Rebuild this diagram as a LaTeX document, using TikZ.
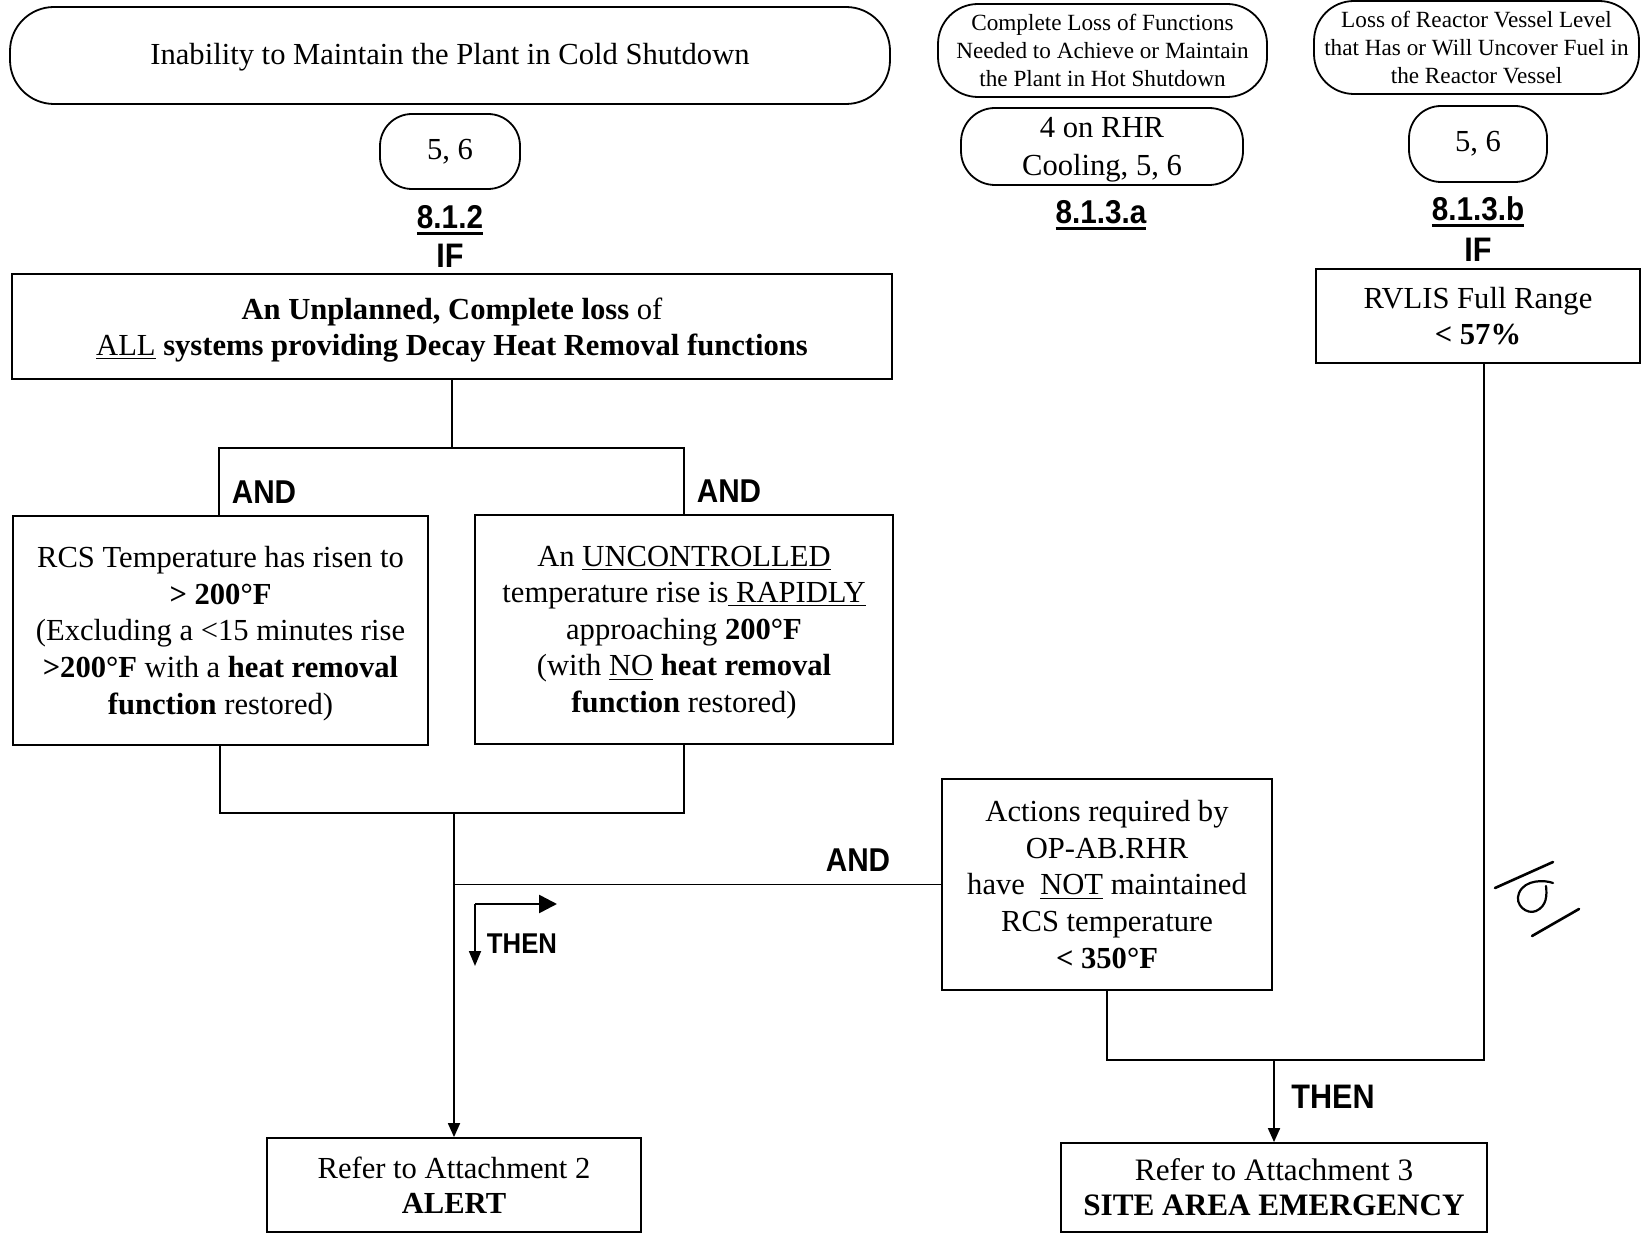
\documentclass[tikz,border=0pt]{standalone}
\usepackage{fontspec}
\setmainfont{Liberation Serif}
\setsansfont{Liberation Sans}
\newfontfamily\labelfont[FakeStretch=0.9]{Liberation Sans}
\usetikzlibrary{arrows.meta}

% text sizes
\newcommand{\bodysize}{\fontsize{15.3pt}{18.3pt}\selectfont}
\newcommand{\titlesize}{\fontsize{11.6pt}{14.2pt}\selectfont}
% heavy underline for the section numbers
\newcommand{\thickul}[1]{\setbox0\hbox{#1}\rlap{\rule[-2.8pt]{\wd0}{1.2pt}}\box0}

\tikzset{
  line/.style={line width=0.9pt},
  arrowline/.style={line width=0.9pt,-{Triangle[length=7pt,width=6pt]}},
  textbox/.style={draw,line width=0.9pt,inner sep=0pt,align=center,font=\bodysize},
  pill/.style={textbox,rounded corners=#1},
  keyword/.style={font=\labelfont\bfseries\fontsize{#1}{#1}\selectfont,inner sep=0pt,anchor=base},
  plaintext/.style={inner sep=0pt,align=center},
}

\begin{document}
\begin{tikzpicture}[x=0.5pt,y=-0.5pt]
\fill[white] (0,0) rectangle (1642,1234);
\useasboundingbox (0,0) rectangle (1642,1234);

% ---- 8.1.2 column ----
\node[pill=22pt,minimum width=440pt,minimum height=48.5pt] (cold) at (450,55.5) {};
\node[plaintext,font=\bodysize] (coldtext) at (450,57.5)
  {Inability to Maintain the Plant in Cold Shutdown};
\node[pill=16pt,minimum width=70pt,minimum height=37.5pt] (modeA) at (450,151.5) {5, 6};
\node[keyword=16.5pt] (secA) at (450,229) {\thickul{8.1.2}};
\node[keyword=17pt] (ifA) at (450,268) {IF};

\node[textbox,minimum width=440pt,minimum height=52.5pt] (loss) at (452,326.5) {};
\node[plaintext,font=\fontsize{15.3pt}{17.9pt}\selectfont] (losstext) at (452,330)
  {\textbf{An Unplanned, Complete loss} of\\\underline{ALL} \textbf{systems providing Decay Heat Removal functions}};

\node[textbox,minimum width=207.5pt,minimum height=114.5pt] (tempL) at (220.5,630.5) {};
\node[plaintext,font=\bodysize] (tempLtext) at (220.5,633.5)
  {RCS Temperature has risen to\\\textbf{> 200°F}\\(Excluding a <15 minutes rise\\\textbf{>200°F} with a \textbf{heat removal}\\\textbf{function} restored)};
\node[textbox,minimum width=209pt,minimum height=114.5pt] (tempR) at (684,629.5) {};
\node[plaintext,font=\bodysize] (tempRtext) at (684,632.5)
  {An \underline{UNCONTROLLED}\\temperature rise is\underline{\ RAPIDLY}\\approaching \textbf{200°F}\\(with \underline{NO} \textbf{heat removal}\\\textbf{function} restored)};

\node[keyword=16.5pt] (andL) at (264,504) {AND};
\node[keyword=16.5pt] (andR) at (729,503) {AND};
\node[keyword=16.5pt] (andM) at (858,871) {AND};
\node[keyword=14.3pt] (thenA) at (522,953) {THEN};
\node[keyword=17pt] (thenB) at (1333,1108) {THEN};

\node[textbox,minimum width=187pt,minimum height=47pt,font=\fontsize{15.3pt}{17.5pt}\selectfont] (alert) at (454,1185)
  {Refer to Attachment 2\\\textbf{ALERT}};

% ---- 8.1.3 columns ----
\node[pill=20pt,minimum width=164.5pt,minimum height=46.5pt,font=\titlesize] (hot) at (1102.5,50.5)
  {Complete Loss of Functions\\Needed to Achieve or Maintain\\the Plant in Hot Shutdown};
\node[pill=17pt,minimum width=141pt,minimum height=38.5pt] (rhr) at (1102,146.5) {};
\node[plaintext,font=\fontsize{15.3pt}{18.8pt}\selectfont] (rhrtext) at (1102,150)
  {4 on RHR\\Cooling, 5, 6};
\node[keyword=16.5pt] (secB) at (1101,224) {\thickul{8.1.3.a}};

\node[pill=20pt,minimum width=162.5pt,minimum height=46.5pt,font=\titlesize] (vessel) at (1476.5,47.5)
  {Loss of Reactor Vessel Level\\that Has or Will Uncover Fuel in\\the Reactor Vessel};
\node[pill=16pt,minimum width=69pt,minimum height=38pt] (modeC) at (1478,144) {5, 6};
\node[keyword=16.5pt] (secC) at (1478,221) {\thickul{8.1.3.b}};
\node[keyword=17pt] (ifC) at (1478,262) {IF};
\node[textbox,minimum width=162pt,minimum height=47pt] (rvlis) at (1478,316)
  {RVLIS Full Range\\\textbf{< 57\%}};

\node[textbox,minimum width=165pt,minimum height=105.5pt] (act) at (1107,884.5)
  {Actions required by\\OP-AB.RHR\\have \ \underline{NOT} maintained\\RCS temperature\\\textbf{< 350°F}};
\node[textbox,minimum width=213pt,minimum height=44.5pt,font=\fontsize{15.6pt}{17.5pt}\selectfont] (sae) at (1274,1187.5)
  {Refer to Attachment 3\\\textbf{SITE AREA EMERGENCY}};

% ---- connectors ----
\coordinate (splitL) at (219,448);
\coordinate (splitR) at (684,448);
\draw[line] (loss.south) -- (loss.south |- splitL);
\draw[line] (splitL |- tempL.north) -- (splitL) -- (splitR) -- (splitR |- tempR.north);

\coordinate (joinL) at (220,813);
\coordinate (joinR) at (684,813);
\draw[line] (joinL |- tempL.south) -- (joinL) -- (joinR) -- (joinR |- tempR.south);
\draw[arrowline] (alert.north |- joinL) -- (alert.north);
\draw[line] (alert.north |- act.west) -- (act.west);

% THEN marker (bent arrow)
\coordinate (thenC) at (475,904);
\coordinate (thenE) at (557,904);
\coordinate (thenS) at (475,966);
\draw[line width=1.3pt,-{Triangle[length=9pt,width=9pt]}] (thenC) -- (thenE);
\draw[line width=0.9pt,-{Triangle[length=7.5pt,width=6pt]}] (thenC) -- (thenS);

\coordinate (mergeR) at (1484,1060);
\draw[line] (act.south) -- (act.south |- mergeR) -- (mergeR) -- (mergeR |- rvlis.south);
\draw[arrowline] (sae.north |- mergeR) -- (sae.north);

% hand-written mark
\draw[line width=1.3pt,line cap=round] (1495,888) -- (1553,862);
\draw[line width=1.1pt,line cap=round] (1553,883) .. controls (1545,880) and (1525,879) .. (1519,893)
  .. controls (1514,905) and (1527,915) .. (1536,911) .. controls (1547,906) and (1547,895) .. (1546,886);
\draw[line width=1.3pt,line cap=round] (1532,936) -- (1579,909);
\end{tikzpicture}
\end{document}
